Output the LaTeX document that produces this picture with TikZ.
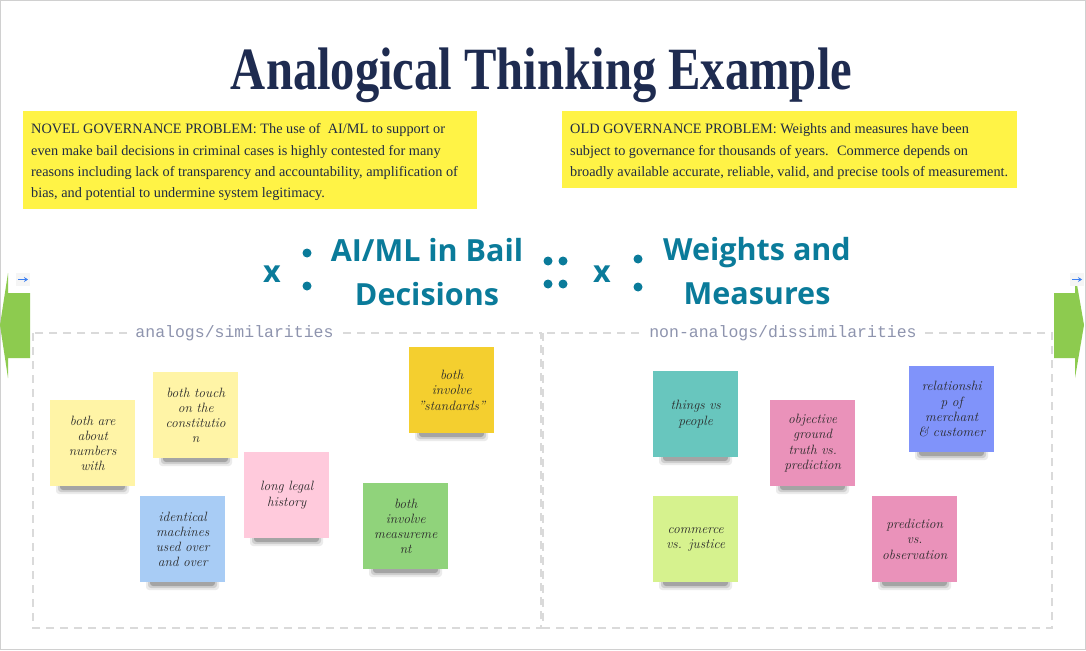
\documentclass[tikz,border=0pt]{standalone}
\usepackage{fontspec}
\newfontfamily\serifb{Liberation Serif}
\newfontfamily\midfont{Open Sans}
\newfontfamily\monof{Liberation Mono}
\usetikzlibrary{arrows.meta}
\definecolor{titlenavy}{HTML}{1E2B50}
\definecolor{boxyellow}{HTML}{FFF346}
\definecolor{boxtext}{HTML}{1F2A44}
\definecolor{midteal}{HTML}{0A7B9A}
\definecolor{dashgray}{HTML}{DADADA}
\definecolor{labgray}{HTML}{8E94AE}
\definecolor{arrowgreen}{HTML}{8DCB4F}
\definecolor{iconblue}{HTML}{3D7FF0}
\definecolor{framegray}{HTML}{D0D0D0}
\definecolor{notetext}{HTML}{2A2A2A}
\definecolor{nyellow}{HTML}{FFF4A6}
\definecolor{npink}{HTML}{FFCADC}
\definecolor{nblue}{HTML}{A8CCF5}
\definecolor{ngold}{HTML}{F4CF2F}
\definecolor{ngreen}{HTML}{90D37B}
\definecolor{nteal}{HTML}{68C6BE}
\definecolor{nrose}{HTML}{EA92BA}
\definecolor{nviolet}{HTML}{8093FA}
\definecolor{nlime}{HTML}{D6F28E}
\tikzset{
  note/.style={anchor=north west, fill=#1, minimum width=85pt, minimum height=86pt,
    inner sep=1pt, align=center, text width=83pt, text=notetext,
    font=\itshape\fontsize{13.5}{15.2}\selectfont},
  shadowlayer/.style={fill=black, opacity=#1, rounded corners=3pt},
  boxline/.style={anchor=base west, inner sep=0pt, text=boxtext, font=\serifb\fontsize{14.3}{21}\selectfont},
  mid/.style={anchor=base, inner sep=0pt, text=midteal, font=\midfont\bfseries\fontsize{30.5}{44}\selectfont},
  dashbox/.style={draw=dashgray, line width=1.2pt, dash pattern=on 8pt off 6pt},
  seclabel/.style={fill=white, inner xsep=6pt, inner ysep=2pt, text=labgray, font=\monof\fontsize{16.5}{18}\selectfont},
  yellowbox/.style={anchor=north west, fill=boxyellow, inner sep=0pt},
}
% #1 name, #2 x, #3 y, #4 colour, #5 text
\newcommand\stickynote[5]{%
  \fill[shadowlayer=0.08] ({#2+6},{#3+70}) rectangle ({#2+79},{#3+94});
  \fill[shadowlayer=0.12] ({#2+8},{#3+70}) rectangle ({#2+77},{#3+92});
  \fill[shadowlayer=0.20] ({#2+10},{#3+70}) rectangle ({#2+75},{#3+90});
  \node[note=#4] (#1) at (#2,#3) {#5};
}
\begin{document}
\begin{tikzpicture}[x=1pt,y=-1pt]
\useasboundingbox (0,0) rectangle (1086,650);
\fill[white] (0,0) rectangle (1086,650);
\draw[framegray, line width=1pt] (0.5,0.5) rectangle (1085.5,649.5);

% title
\node[anchor=base, inner sep=0pt, text=titlenavy, font=\serifb\bfseries\fontsize{60}{60}\selectfont] (title) at (541.5,90) {\scalebox{0.81}[1]{Analogical Thinking Example}};

% yellow boxes
\node[yellowbox, minimum width=454pt, minimum height=98pt] (novel) at (23,111) {};
\node[boxline] (n1) at (31,134) {NOVEL GOVERNANCE PROBLEM: The use of~ AI/ML to support or};
\node[boxline] (n2) at (31,155) {even make bail decisions in criminal cases is highly contested for many};
\node[boxline] (n3) at (31,176) {reasons including lack of transparency and accountability, amplification of};
\node[boxline] (n4) at (31,197) {bias, and potential to undermine system legitimacy.};

\node[yellowbox, minimum width=455pt, minimum height=77pt] (old) at (562,111) {};
\node[boxline] (o1) at (570,134) {OLD GOVERNANCE PROBLEM: Weights and measures have been};
\node[boxline] (o2) at (570,155) {subject to governance for thousands of years.~ Commerce depends on};
\node[boxline] (o3) at (570,176) {broadly available accurate, reliable, valid, and precise tools of measurement.};

% analogy line
\node[mid] (x1) at (272,282) {x};
\fill[midteal] (307,253) circle[radius=4.5pt] (307,286) circle[radius=4.5pt];
\node[mid] (ai1) at (427,261) {AI/ML in Bail};
\node[mid] (ai2) at (427,305) {Decisions};
\fill[midteal] (548,261) circle[radius=4.5pt] (563,261) circle[radius=4.5pt]
               (548,284) circle[radius=4.5pt] (563,284) circle[radius=4.5pt];
\node[mid] (x2) at (602,282) {x};
\fill[midteal] (638,259) circle[radius=4.5pt] (638,287) circle[radius=4.5pt];
\node[mid] (wm1) at (757,260) {Weights and};
\node[mid] (wm2) at (757,304) {Measures};

% side arrows
\fill[arrowgreen] (30,293) -- (8,293) -- (8,273) -- (0,325) -- (8,378) -- (8,358) -- (30,358) -- cycle;
\fill[arrowgreen] (1054,293) -- (1075,293) -- (1075,273) -- (1084,325) -- (1075,378) -- (1075,358) -- (1054,358) -- cycle;
\fill[gray!8] (16,273) rectangle (30,286);
\draw[iconblue, line width=1.4pt, -{Stealth[length=4pt,width=5pt]}] (18,279.5) -- (28,279.5);
\fill[gray!8] (1070,273) rectangle (1084,286);
\draw[iconblue, line width=1.4pt, -{Stealth[length=4pt,width=5pt]}] (1072,279.5) -- (1082,279.5);

% dashed areas
\draw[dashbox] (33,333) rectangle (541,628);
\draw[dashbox] (543,333) rectangle (1052,628);
\node[seclabel] (simlab) at (234.5,333) {analogs/similarities};
\node[seclabel] (dislab) at (783,333) {non-analogs/dissimilarities};

% sticky notes: analogs
\stickynote{s1}{50}{400}{nyellow}{both are\\about\\numbers\\with}
\stickynote{s2}{153}{372}{nyellow}{both touch\\on the\\constitutio\\n}
\stickynote{s3}{244}{452}{npink}{long legal\\history}
\stickynote{s4}{140}{496}{nblue}{identical\\machines\\used over\\and over}
\stickynote{s5}{409}{347}{ngold}{both\\involve\\"standards"}
\stickynote{s6}{363}{483}{ngreen}{both\\involve\\measureme\\nt}

% sticky notes: non-analogs
\stickynote{d1}{653}{371}{nteal}{things vs\\people}
\stickynote{d2}{770}{400}{nrose}{objective\\ground\\truth vs.\\prediction}
\stickynote{d3}{909}{366}{nviolet}{relationshi\\p of\\merchant\\\& customer}
\stickynote{d4}{653}{496}{nlime}{commerce\\vs. justice}
\stickynote{d5}{872}{496}{nrose}{prediction\\vs.\\observation}
\end{tikzpicture}
\end{document}
